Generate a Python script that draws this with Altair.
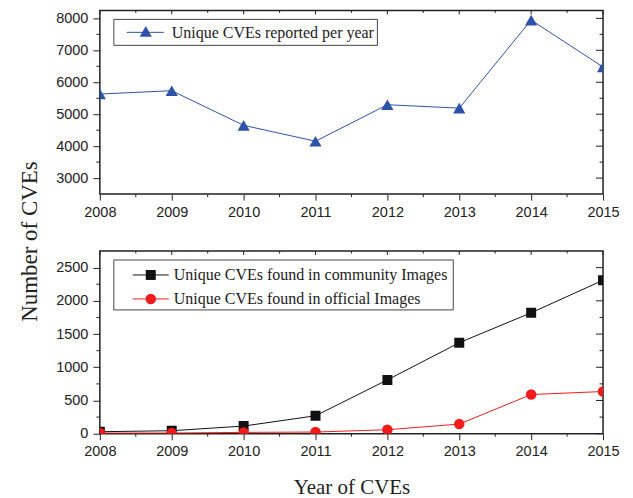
import altair as alt
import pandas as pd

# ---- data ----
years = [2008, 2009, 2010, 2011, 2012, 2013, 2014, 2015]
reported = [5632, 5736, 4652, 4155, 5297, 5191, 7946, 6480]
community = [30, 45, 115, 270, 810, 1370, 1820, 2310]
official = [10, 10, 20, 25, 60, 145, 590, 635]

top_series = "Unique CVEs reported per year"
bottom_series = ["Unique CVEs found in community Images",
                 "Unique CVEs found in official Images"]

top_major = [3000, 4000, 5000, 6000, 7000, 8000]
top_minor = [3500, 4500, 5500, 6500, 7500]
bot_major = [0, 500, 1000, 1500, 2000, 2500]
bot_minor = [250, 750, 1250, 1750, 2250]
half_years = [2008.5, 2009.5, 2010.5, 2011.5, 2012.5, 2013.5, 2014.5]

# ---- styles ----
W, H1, H2 = 504, 184, 183
SANS = "Liberation Sans"
SERIF = "Liberation Serif"
BLUE = "#2E52A8"
RED = "#F01C1C"
BLACK = "#111111"
FRAME = "#222222"
TXT = "#222222"

xs = alt.Scale(domain=[2008, 2015], nice=False, zero=False)
ys_top = alt.Scale(domain=[2500, 8250], nice=False, zero=False)
ys_bot = alt.Scale(domain=[0, 2750], nice=False, zero=False)

x_axis_top = alt.Axis(values=years, format="d", title=None, tickSize=6,
                      labelPadding=5, labelFontSize=14.5, labelFont=SANS,
                      labelColor=TXT, domain=False, grid=False,
                      tickColor=FRAME, labelFlush=False)
x_axis_bot = alt.Axis(values=years, format="d", title="Year of CVEs",
                      tickSize=6, labelPadding=5, labelFontSize=14.5,
                      labelFont=SANS, labelColor=TXT, domain=False,
                      grid=False, tickColor=FRAME, labelFlush=False,
                      titleFont=SERIF, titleFontSize=21,
                      titleFontWeight="normal", titleColor=TXT,
                      titlePadding=18)
y_axis_top = alt.Axis(values=top_major, format="d", title="Number of CVEs",
                      tickSize=7, labelPadding=5, labelFontSize=14.5,
                      labelFont=SANS, labelColor=TXT, domain=False,
                      grid=False, tickColor=FRAME,
                      titleFont=SERIF, titleFontSize=23,
                      titleFontWeight="normal", titleColor=TXT,
                      titleAngle=270, titleAlign="center",
                      titleBaseline="alphabetic", titleX=-63, titleY=231)
y_axis_bot = alt.Axis(values=bot_major, format="d", title=None,
                      tickSize=7, labelPadding=5, labelFontSize=14.5,
                      labelFont=SANS, labelColor=TXT, domain=False,
                      grid=False, tickColor=FRAME)


def tick_layers(xaxis, yaxis, ys, ymajor, yminor, h):
    """Frame ticks: right/top inward, left minor outward, bottom minor."""
    out = []
    dmaj = pd.DataFrame({"v": ymajor})
    dmin = pd.DataFrame({"v": yminor})
    dyr = pd.DataFrame({"year": years})
    dhy = pd.DataFrame({"year": half_years})
    out.append(alt.Chart(dmaj).mark_rule(color=FRAME, strokeWidth=1).encode(
        y=alt.Y("v:Q", scale=ys, axis=yaxis), x=alt.value(W - 7), x2=alt.value(W)))
    out.append(alt.Chart(dmin).mark_rule(color=FRAME, strokeWidth=1).encode(
        y=alt.Y("v:Q", scale=ys, axis=yaxis), x=alt.value(W - 3.5), x2=alt.value(W)))
    out.append(alt.Chart(dmin).mark_rule(color=FRAME, strokeWidth=1).encode(
        y=alt.Y("v:Q", scale=ys, axis=yaxis), x=alt.value(-3.5), x2=alt.value(0)))
    out.append(alt.Chart(dyr).mark_rule(color=FRAME, strokeWidth=1).encode(
        x=alt.X("year:Q", scale=xs, axis=xaxis), y=alt.value(0), y2=alt.value(4)))
    out.append(alt.Chart(dhy).mark_rule(color=FRAME, strokeWidth=1).encode(
        x=alt.X("year:Q", scale=xs, axis=xaxis), y=alt.value(0), y2=alt.value(2.5)))
    out.append(alt.Chart(dhy).mark_rule(color=FRAME, strokeWidth=1).encode(
        x=alt.X("year:Q", scale=xs, axis=xaxis), y=alt.value(h), y2=alt.value(h + 3)))
    return out


# ---- top panel ----
df_top = pd.DataFrame({"year": years, "value": reported})
enc_top = dict(x=alt.X("year:Q", scale=xs, axis=x_axis_top),
               y=alt.Y("value:Q", scale=ys_top, axis=y_axis_top))
top_line = alt.Chart(df_top).mark_line(color=BLUE, strokeWidth=1, clip=True).encode(**enc_top)
top_pts = alt.Chart(df_top).mark_point(shape="triangle-up", filled=True, size=150,
                                       color=BLUE, opacity=1, clip=True).encode(**enc_top)

leg_top_df = pd.DataFrame({"label": [top_series]})
leg_top = [
    alt.Chart(leg_top_df).mark_rect(fill="white", stroke="#444444", strokeWidth=1).encode(
        x=alt.value(14), x2=alt.value(278), y=alt.value(9), y2=alt.value(35)),
    alt.Chart(leg_top_df).mark_rule(color=BLUE, strokeWidth=1).encode(
        x=alt.value(27), x2=alt.value(64), y=alt.value(22)),
    alt.Chart(leg_top_df).mark_point(shape="triangle-up", filled=True, size=150,
                                     color=BLUE, opacity=1).encode(
        x=alt.value(46), y=alt.value(21)),
    alt.Chart(leg_top_df).mark_text(align="left", baseline="middle", font=SERIF,
                                    fontSize=16, color=TXT).encode(
        x=alt.value(72), y=alt.value(22.5), text="label:N"),
]

top = alt.layer(
    *tick_layers(x_axis_top, y_axis_top, ys_top, top_major, top_minor, H1),
    top_line, top_pts, *leg_top
).properties(width=W, height=H1)

# ---- bottom panel ----
df_c = pd.DataFrame({"year": years, "value": community})
df_o = pd.DataFrame({"year": years, "value": official})
enc_bot = dict(x=alt.X("year:Q", scale=xs, axis=x_axis_bot),
               y=alt.Y("value:Q", scale=ys_bot, axis=y_axis_bot))
c_line = alt.Chart(df_c).mark_line(color=BLACK, strokeWidth=1, clip=True).encode(**enc_bot)
c_pts = alt.Chart(df_c).mark_point(shape="square", filled=True, size=100,
                                   color=BLACK, opacity=1, clip=True).encode(**enc_bot)
o_line = alt.Chart(df_o).mark_line(color=RED, strokeWidth=1, clip=True).encode(**enc_bot)
o_pts = alt.Chart(df_o).mark_point(shape="circle", filled=True, size=110,
                                   color=RED, opacity=1, clip=True).encode(**enc_bot)

leg_bot_df = pd.DataFrame({"label": bottom_series})
leg_bot = [
    alt.Chart(leg_bot_df.head(1)).mark_rect(fill="white", stroke="#444444", strokeWidth=1).encode(
        x=alt.value(14), x2=alt.value(354), y=alt.value(9), y2=alt.value(59)),
]
rows = [(bottom_series[0], BLACK, "square", 100, 24),
        (bottom_series[1], RED, "circle", 110, 48)]
for lab, col, shp, sz, yy in rows:
    d = pd.DataFrame({"label": [lab]})
    leg_bot += [
        alt.Chart(d).mark_rule(color=col, strokeWidth=1).encode(
            x=alt.value(33), x2=alt.value(69), y=alt.value(yy)),
        alt.Chart(d).mark_point(shape=shp, filled=True, size=sz, color=col,
                                opacity=1).encode(x=alt.value(51), y=alt.value(yy)),
        alt.Chart(d).mark_text(align="left", baseline="middle", font=SERIF,
                               fontSize=16, color=TXT).encode(
            x=alt.value(74), y=alt.value(yy + 0.5), text="label:N"),
    ]

bottom = alt.layer(
    *tick_layers(x_axis_bot, y_axis_bot, ys_bot, bot_major, bot_minor, H2),
    c_line, o_line, c_pts, o_pts, *leg_bot
).properties(width=W, height=H2)

chart = alt.vconcat(top, bottom, spacing=57, bounds="flush").properties(
    padding={"left": 10, "top": 0, "right": 5, "bottom": 0}
).configure_view(stroke=FRAME, strokeWidth=1.5).configure_axis(grid=False)

chart.save("out.html", embed_options={"renderer": "svg", "actions": False})
